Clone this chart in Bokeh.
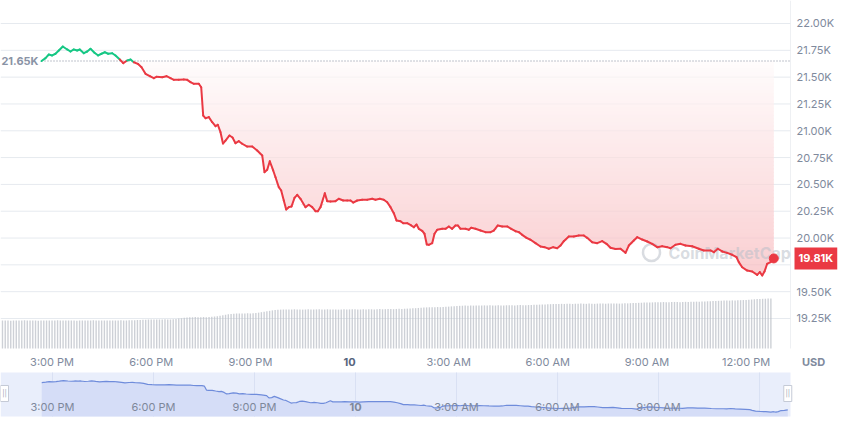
import numpy as np
from bokeh.plotting import figure
from bokeh.models import Range1d, Label, ColumnDataSource
from bokeh.embed import file_html
from bokeh.resources import INLINE
from bokeh.core.properties import value

# ---------------- data (hours relative to 00:00 on the 10th, prices in thousands USD) ----------------
hours = [-9.319, -9.198, -9.098, -8.996, -8.896, -8.796, -8.675, -8.542, -8.442, -8.342,
         -8.239, -8.160, -8.039, -7.937, -7.837, -7.716, -7.604, -7.504, -7.404, -7.301,
         -7.180, -7.080, -6.950, -6.847, -6.726, -6.626, -6.526, -6.405, -6.293, -6.172,
         -6.042, -5.921, -5.840, -5.667, -5.537, -5.416, -5.316, -5.165, -5.014, -4.911,
         -4.811, -4.711, -4.560, -4.487, -4.427, -4.357, -4.257, -4.154, -4.054, -3.985,
         -3.903, -3.828, -3.752, -3.631, -3.540, -3.449, -3.349, -3.247, -3.095, -2.944,
         -2.793, -2.641, -2.572, -2.490, -2.412, -2.309, -2.239, -2.139, -2.067, -1.988,
         -1.915, -1.837, -1.755, -1.664, -1.582, -1.483, -1.331, -1.231, -1.129, -1.029,
         -0.959, -0.877, -0.747, -0.675, -0.575, -0.424, -0.324, -0.191, -0.070, 0.030,
         0.112, 0.233, 0.384, 0.536, 0.687, 0.787, 0.917, 1.038, 1.141, 1.241,
         1.340, 1.422, 1.543, 1.625, 1.746, 1.867, 1.946, 2.027, 2.097, 2.200,
         2.269, 2.339, 2.399, 2.502, 2.572, 2.654, 2.805, 2.905, 3.005, 3.107,
         3.207, 3.277, 3.359, 3.510, 3.610, 3.682, 3.812, 3.964, 4.115, 4.266,
         4.366, 4.487, 4.620, 4.772, 4.893, 5.023, 5.123, 5.225, 5.356, 5.477,
         5.628, 5.779, 5.900, 6.030, 6.163, 6.284, 6.384, 6.484, 6.635, 6.787,
         6.938, 7.089, 7.192, 7.343, 7.495, 7.646, 7.776, 7.897, 8.048, 8.200,
         8.351, 8.451, 8.602, 8.705, 8.856, 9.008, 9.159, 9.310, 9.461, 9.613,
         9.713, 9.864, 10.015, 10.166, 10.369, 10.569, 10.720, 10.923, 11.023, 11.144,
         11.277, 11.428, 11.579, 11.710, 11.779, 11.882, 12.033, 12.185, 12.336, 12.415,
         12.487, 12.557, 12.638, 12.738, 12.838]

prices = [21.650, 21.677, 21.711, 21.702, 21.718, 21.748, 21.786, 21.758, 21.739, 21.758,
          21.748, 21.758, 21.723, 21.739, 21.764, 21.727, 21.702, 21.718, 21.732, 21.718,
          21.723, 21.702, 21.664, 21.630, 21.655, 21.664, 21.639, 21.624, 21.593, 21.531,
          21.509, 21.490, 21.503, 21.499, 21.509, 21.490, 21.475, 21.475, 21.478, 21.475,
          21.453, 21.438, 21.438, 21.406, 21.142, 21.117, 21.127, 21.080, 21.043, 21.056,
          20.987, 20.881, 20.909, 20.956, 20.937, 20.884, 20.903, 20.879, 20.853, 20.853,
          20.816, 20.770, 20.614, 20.636, 20.716, 20.630, 20.567, 20.474, 20.443, 20.350,
          20.266, 20.288, 20.294, 20.375, 20.403, 20.366, 20.288, 20.310, 20.288, 20.250,
          20.250, 20.288, 20.418, 20.344, 20.341, 20.344, 20.366, 20.350, 20.350, 20.350,
          20.331, 20.350, 20.357, 20.357, 20.366, 20.357, 20.366, 20.357, 20.334, 20.288,
          20.232, 20.164, 20.157, 20.138, 20.138, 20.117, 20.101, 20.126, 20.086, 20.066,
          20.040, 19.940, 19.937, 19.952, 20.040, 20.077, 20.086, 20.086, 20.108, 20.086,
          20.117, 20.117, 20.086, 20.086, 20.077, 20.096, 20.086, 20.070, 20.055, 20.055,
          20.070, 20.117, 20.108, 20.108, 20.086, 20.064, 20.055, 20.030, 20.002, 19.984,
          19.952, 19.921, 19.915, 19.900, 19.915, 19.905, 19.930, 19.971, 20.014, 20.014,
          20.024, 20.024, 20.002, 19.961, 19.952, 19.971, 19.946, 19.910, 19.898, 19.900,
          19.862, 19.930, 19.977, 20.008, 19.986, 19.968, 19.946, 19.915, 19.924, 19.915,
          19.905, 19.937, 19.946, 19.930, 19.924, 19.900, 19.884, 19.884, 19.868, 19.900,
          19.875, 19.862, 19.844, 19.821, 19.775, 19.728, 19.697, 19.688, 19.657, 19.682,
          19.651, 19.688, 19.760, 19.775, 19.810]

base_price = 21.65  # opening price (dotted reference line)

# 24h volume bars (billions USD), one every 5 minutes
vol_start_hour = -10.5
vol_step_hours = 5 / 60
volumes_b = [25.1, 25.3, 25.2, 25.0, 25.2, 25.3, 25.1, 25.2, 25.4, 25.2, 25.1, 25.3, 25.2, 25.0, 25.1,
             25.2, 25.3, 25.2, 25.1, 25.2, 25.4, 25.3, 25.2, 25.1, 25.2, 25.3, 25.2, 25.0, 25.2, 25.3,
             25.1, 25.2, 25.3, 25.4, 25.2, 25.1, 25.2, 25.3, 25.2, 25.1, 25.3, 25.2, 25.2, 25.4, 25.3,
             25.2, 25.4, 25.5, 25.4, 25.6, 25.7, 25.8,
             25.9, 26.0, 26.1, 26.2, 26.1, 26.0, 26.2, 26.3, 26.1, 26.2, 26.4, 26.6, 26.9, 27.2, 27.6,
             27.9, 28.1, 28.2, 28.3, 28.1, 28.2, 28.4, 28.2, 28.3, 28.5, 28.7, 29.0, 29.4, 29.9, 30.3,
             30.8, 31.1,
             31.3, 31.5, 31.4, 31.6, 31.5, 31.7, 31.6, 31.8, 32.0, 32.3, 32.7, 33.1, 33.5, 33.9, 34.3,
             34.6, 34.8, 35.0,
             35.1, 35.0, 35.2, 35.1, 35.3, 35.1, 35.2, 35.0, 35.1, 35.3, 35.2, 35.1, 35.2, 35.4, 35.2,
             35.1, 35.3, 35.2, 35.1, 35.2, 35.0, 35.2, 35.3, 35.1, 35.2, 35.4, 35.3, 35.2, 35.1, 35.3,
             35.2, 35.4, 35.3, 35.2, 35.4, 35.5, 35.3, 35.4, 35.6, 35.5, 35.4, 35.6, 35.7, 35.6, 35.8,
             35.9, 36.0, 36.2, 36.3, 36.5, 36.7, 36.8, 37.0, 37.1,
             37.1, 37.2, 37.3, 37.2, 37.4, 37.5, 37.7, 37.9,
             38.1, 38.3, 38.4, 38.5, 38.6, 38.5, 38.7, 38.6, 38.8, 38.7, 38.6, 38.8, 38.7, 38.9, 38.8,
             38.7, 38.9, 38.8, 38.7, 38.9, 39.0, 38.9, 38.8, 39.0, 39.1, 39.0, 38.9, 39.1, 39.2, 39.3,
             39.4, 39.5, 39.6, 39.7, 39.8, 39.9,
             40.0, 40.1, 40.0, 40.2, 40.1, 40.3, 40.2, 40.1, 40.3, 40.2, 40.4, 40.3, 40.2, 40.4, 40.3,
             40.2, 40.4, 40.5, 40.4, 40.3, 40.5, 40.4, 40.6, 40.5, 40.4, 40.6, 40.7, 40.6, 40.8, 40.9,
             41.0, 41.1, 41.2, 41.3, 41.4, 41.5,
             41.5, 41.6, 41.7, 41.6, 41.8, 41.7, 41.6, 41.8, 41.9, 41.8, 41.7, 41.9, 42.0, 41.9, 42.0,
             42.1, 42.2, 42.1, 42.3, 42.4, 42.5, 42.6, 42.7, 42.8, 42.9,
             43.0, 43.1, 43.2, 43.1, 43.3, 43.2, 43.4, 43.5, 43.6, 43.7, 43.9, 44.1,
             44.3, 44.5, 44.6, 44.7, 44.8, 44.9, 45.0]

tick_hours = [-9, -6, -3, 0, 3, 6, 9, 12]
tick_labels = ["3:00 PM", "6:00 PM", "9:00 PM", "10", "3:00 AM", "6:00 AM", "9:00 AM", "12:00 PM"]
price_ticks = [19.25, 19.50, 19.75, 20.00, 20.25, 20.50, 20.75, 21.00, 21.25, 21.50, 21.75, 22.00]
currency = "USD"
watermark = "CoinMarketCap"

# ---------------- style / layout (pixel positions, from the top-left) ----------------
FONT = "Inter"
GREEN = "#16c784"
RED = "#ea3943"
GRAY = "#808a9d"
W, H = 850, 424
PLOT_RIGHT_PX = 790      # right edge of the plotting area
VOL_BASE_PX = 348        # bottom of the volume bars
XLAB_PX = 361            # time labels
NAV_TOP_PX, NAV_BOT_PX = 372, 416
NAV_LAB_PX, NAV_HANDLE_PX = 406, 393

h = np.array(hours)
pr = np.array(prices)

# main time scale and price scale
x_range = Range1d(-10.560, 15.159)
y_range = Range1d(18.2618, 22.2144)
hour_per_px = (x_range.end - x_range.start) / W
plot_right_hour = x_range.start + PLOT_RIGHT_PX * hour_per_px

p = figure(width=W, height=H, x_range=x_range, y_range=y_range,
           x_axis_location=None, y_axis_location=None, output_backend="svg", toolbar_location=None,
           min_border_left=0, min_border_top=0, min_border_right=0, min_border_bottom=0)
p.outline_line_color = None
p.grid.visible = False
p.background_fill_color = "white"
p.border_fill_color = "white"
p.extra_y_ranges = {
    "px": Range1d(H, 0),                                           # pixel rows, for layout
    "vol": Range1d(-(H - VOL_BASE_PX) * 0.9, VOL_BASE_PX * 0.9),   # volume (B USD)
    "navp": Range1d(18.819, 47.448),                               # navigator price scale
}
p.extra_x_ranges = {
    "px": Range1d(0, W),
    "navh": Range1d(-10.544, 14.701),                              # navigator time scale
}
nav_xr = p.extra_x_ranges["navh"]
nav_yr = p.extra_y_ranges["navp"]
nav_right_hour = nav_xr.start + PLOT_RIGHT_PX * (nav_xr.end - nav_xr.start) / W
nav_bottom_price = nav_yr.start + (H - NAV_BOT_PX) * (nav_yr.end - nav_yr.start) / H

# ---- grid lines and plot border
n_t = len(price_ticks)
p.segment(x0=[x_range.start] * n_t, y0=price_ticks, x1=[plot_right_hour] * n_t, y1=price_ticks,
          line_color="#edf0f4", line_width=1)
p.segment(x0=[plot_right_hour], y0=[VOL_BASE_PX], x1=[plot_right_hour], y1=[0], y_range_name="px",
          line_color="#eef0f3", line_width=1)

# ---- volume bars
vol_hours = [vol_start_hour + i * vol_step_hours for i in range(len(volumes_b))]
p.vbar(x=vol_hours, top=volumes_b, bottom=0, width=0.042, y_range_name="vol",
       fill_color="#cdd0d6", line_color=None)

# ---- vertical gradient fill between price line and opening price (opaque bands)
n_bands = 60
edges = np.linspace(base_price, pr.min(), n_bands + 1)
red_rgb = np.array([234, 57, 67])
for i in range(n_bands):
    top_t, bot_t = edges[i], edges[i + 1]
    a = 0.015 + 0.23 * (i + 0.5) / n_bands
    rgb = (255 * (1 - a) + red_rgb * a).round().astype(int)
    p.varea(x=h, y1=np.clip(pr, bot_t - 0.012, top_t), y2=np.full_like(pr, top_t),
            fill_color="#%02x%02x%02x" % tuple(rgb))

# faint grid lines visible through the fill
p.segment(x0=[x_range.start] * n_t, y0=price_ticks, x1=[plot_right_hour] * n_t, y1=price_ticks,
          line_color="#1f3a6e", line_alpha=0.03, line_width=1)

# ---- watermark (logo ring + name)
p.scatter(x=[651], y=[252], x_range_name="px", y_range_name="px", marker="circle", size=17,
          fill_color=None, line_color="#b9bfc9", line_width=2.5, line_alpha=0.55)
p.text(x=[668], y=[252], text=[watermark], x_range_name="px", y_range_name="px",
       text_font=value(FONT), text_font_size="16px", text_font_style="bold",
       text_color="#b9bfc9", text_alpha=0.55, text_align="left", text_baseline="middle")

# ---- dotted opening-price line
p.segment(x0=[hours[0]], y0=[base_price], x1=[plot_right_hour], y1=[base_price],
          line_color="#aab0bc", line_width=1.5, line_dash="1 2")

# ---- price line (green above opening price, red below)
mid = (pr[:-1] + pr[1:]) / 2
seg_src = ColumnDataSource(dict(x0=h[:-1], y0=pr[:-1], x1=h[1:], y1=pr[1:],
                                c=[GREEN if m >= base_price else RED for m in mid]))
p.segment(x0="x0", y0="y0", x1="x1", y1="y1", line_color="c", line_width=2,
          line_cap="round", source=seg_src)
p.scatter(x=[hours[-1]], y=[prices[-1]], size=9, fill_color=RED, line_color=RED)

# ---- price axis labels
p.text(x=[plot_right_hour] * n_t, y=price_ticks, text=[f"{t:.2f}K" for t in price_ticks],
       x_offset=6, text_font=value(FONT), text_font_size="11px", text_color=GRAY,
       text_align="left", text_baseline="middle")

# ---- time axis labels
xl_src = ColumnDataSource(dict(x=tick_hours, y=[XLAB_PX] * len(tick_hours), text=tick_labels,
                               style=["bold" if l == "10" else "normal" for l in tick_labels],
                               color=["#58667e" if l == "10" else GRAY for l in tick_labels]))
p.text(x="x", y="y", text="text", source=xl_src, y_range_name="px", text_font=value(FONT),
       text_font_size="11px", text_font_style="style", text_color="color",
       text_align="center", text_baseline="middle")
p.text(x=[813], y=[XLAB_PX], text=[currency], x_range_name="px", y_range_name="px",
       text_font=value(FONT), text_font_size="11px", text_font_style="bold", text_color=GRAY,
       text_align="center", text_baseline="middle")

# ---- opening-price and last-price labels
p.add_layout(Label(x=38, x_units="screen", y=base_price, text=f"{base_price:.2f}K",
                   text_align="right", text_baseline="middle", text_font=FONT,
                   text_font_size="11px", text_font_style="bold", text_color="#8a93a5"))
p.add_layout(Label(x=PLOT_RIGHT_PX + 4, x_units="screen", y=prices[-1], text=f"{prices[-1]:.2f}K",
                   text_align="left", text_baseline="middle", text_font=FONT,
                   text_font_size="11px", text_font_style="bold", text_color="white",
                   background_fill_color=RED, padding=4))

# ---------------- navigator ----------------
p.quad(left=[nav_xr.start], right=[nav_right_hour], bottom=[NAV_BOT_PX], top=[NAV_TOP_PX],
       x_range_name="navh", y_range_name="px", fill_color="#e9eefb", line_color=None)
nav_ticks = [t for t in tick_hours if t <= nav_right_hour]
p.segment(x0=nav_ticks, y0=[NAV_BOT_PX] * len(nav_ticks), x1=nav_ticks, y1=[NAV_TOP_PX] * len(nav_ticks),
          x_range_name="navh", y_range_name="px", line_color="#d9e0f3", line_width=1)
p.varea(x=h, y1=np.full_like(pr, nav_bottom_price), y2=pr, x_range_name="navh", y_range_name="navp",
        fill_color="#d5ddf7")
p.line(x=h, y=pr, x_range_name="navh", y_range_name="navp", line_color="#6f8cdb", line_width=1.2)

nav_src = ColumnDataSource(dict(x=tick_hours[:-1], y=[NAV_LAB_PX] * (len(tick_hours) - 1),
                                text=tick_labels[:-1],
                                style=["bold" if lab == "10" else "normal" for lab in tick_labels[:-1]]))
p.text(x="x", y="y", text="text", source=nav_src, x_range_name="navh", y_range_name="px",
       text_font=value(FONT), text_font_size="11px", text_font_style="style",
       text_color="#7e889b", text_align="center", text_baseline="middle")

# navigator handles (left edge of the window and last point)
nav_hour_per_px = (nav_xr.end - nav_xr.start) / W
handle_x = [nav_xr.start + 4 * nav_hour_per_px, hours[-1]]
p.rect(x=handle_x, y=[NAV_HANDLE_PX] * 2, width=8, height=16, width_units="screen", height_units="screen",
       x_range_name="navh", y_range_name="px", fill_color="white", line_color="#c5cad6", line_width=1)
p.text(x=handle_x, y=[NAV_HANDLE_PX] * 2, text=["||", "||"], x_range_name="navh", y_range_name="px",
       text_font=value(FONT), text_font_size="7px", text_color="#9aa2b3",
       text_align="center", text_baseline="middle")

open("out.html", "w").write(file_html(p, INLINE))
